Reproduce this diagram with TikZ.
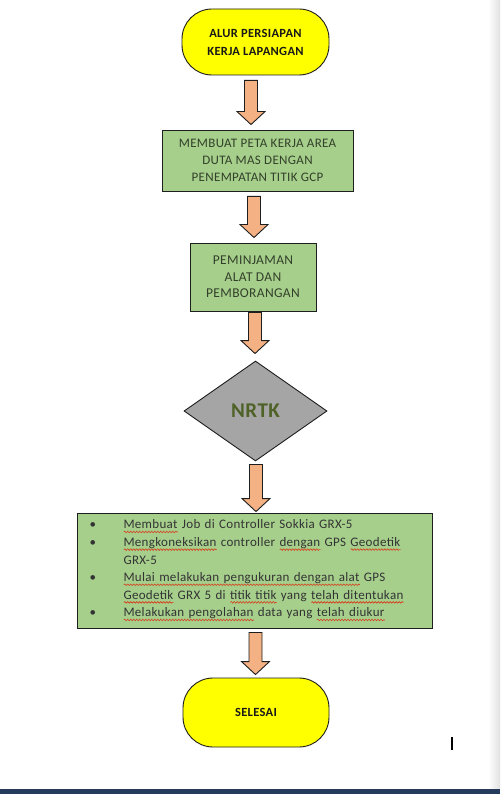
\documentclass[tikz,border=0pt]{standalone}
\usepackage{fontspec}
\setmainfont{Carlito}[LetterSpace=2.5]
\usetikzlibrary{shapes.geometric,calc,decorations.pathmorphing}
\definecolor{termyellow}{HTML}{FFFF00}
\definecolor{boxgreen}{HTML}{A6CF8C}
\definecolor{diagrey}{HTML}{A5A5A5}
\definecolor{arroworange}{HTML}{F4B183}
\definecolor{olivetext}{HTML}{4F6228}
\definecolor{boxtext}{HTML}{33402A}
\definecolor{listtext}{HTML}{333333}
\definecolor{navyband}{HTML}{243B5C}
\definecolor{edgecol}{HTML}{1E1E1E}
\definecolor{spellred}{HTML}{D83A1A}
\newsavebox\rwbox
\newcommand\rw[1]{\sbox\rwbox{#1}\rlap{\raisebox{-3pt}{\tikz[baseline=0pt]
  \draw[spellred, line width=0.6pt, decorate, decoration={snake, amplitude=0.8pt, segment length=3pt}]
  (0pt,0pt) -- (\wd\rwbox,0pt);}}\usebox\rwbox}
\newcommand\blockarrow[5]{%
  \draw[barrow] let \p1=($(#1.south)+(#5,#3)$), \p2=($(#2.north)+(#5,-#4)$) in
    (\x1-6.5pt,\y1) -- (\x1+6.5pt,\y1) -- (\x1+6.5pt,\y2+13pt) -- (\x1+14pt,\y2+13pt)
    -- (\x1,\y2) -- (\x1-14pt,\y2+13pt) -- (\x1-6.5pt,\y2+13pt) -- cycle;}
\begin{document}
\begin{tikzpicture}[x=1pt,y=-1pt,
  terminator/.style={draw=edgecol, line width=0.9pt, fill=termyellow, rounded corners=30pt,
    minimum width=147pt, minimum height=66pt, align=center, inner sep=0pt,
    font=\fontsize{12.5}{18}\selectfont\bfseries, text=black!90},
  procbox/.style={draw=edgecol, line width=0.9pt, fill=boxgreen, align=center, inner sep=0pt,
    font=\fontsize{13}{17}\selectfont, text=boxtext},
  decision/.style={diamond, draw=edgecol, line width=0.9pt, fill=diagrey, minimum width=143pt,
    minimum height=100pt, inner sep=0pt, font=\fontsize{21}{24}\selectfont\bfseries, text=olivetext},
  barrow/.style={draw=edgecol, line width=0.9pt, fill=arroworange, line join=miter}]
\useasboundingbox (0,0) rectangle (500,794);
\fill[white] (0,0) rectangle (500,794);
\shade[left color=white, right color=black!12] (488,0) rectangle (500,789);
\fill[navyband] (0,789) rectangle (500,794);

\node[terminator] (start) at (255.5,42) {ALUR PERSIAPAN\\KERJA LAPANGAN};
\node[procbox, minimum width=191pt, minimum height=61pt] (peta) at (257.5,160.5)
  {MEMBUAT PETA KERJA AREA\\DUTA MAS DENGAN\\PENEMPATAN TITIK GCP};
\node[procbox, minimum width=126pt, minimum height=68pt, font=\fontsize{13.5}{16.5}\selectfont]
  (pinjam) at (253,277) {PEMINJAMAN\\ALAT DAN\\PEMBORANGAN};
\node[decision] (nrtk) at (255.5,411) {NRTK};
\node[procbox, minimum width=355pt, minimum height=115pt, text width=330pt, align=left,
  font=\fontsize{13}{17.6}\selectfont, text=listtext] (kerja) at (254.5,570.5)
  {\makebox[34pt][l]{•}\rw{Membuat} Job di Controller Sokkia GRX-5\\
   \makebox[34pt][l]{•}\rw{Mengkoneksikan} controller \rw{dengan} GPS \rw{Geodetik}\\
   \hspace*{34pt}GRX-5\\
   \makebox[34pt][l]{•}\rw{Mulai melakukan pengukuran dengan alat} GPS\\
   \hspace*{34pt}\rw{Geodetik} GRX 5 di \rw{titik titik} yang \rw{telah ditentukan}\\
   \makebox[34pt][l]{•}\rw{Melakukan pengolahan} data yang \rw{telah diukur}};
\node[terminator, minimum width=146pt, minimum height=69pt] (selesai) at (256,712.5) {SELESAI};

\blockarrow{start}{peta}{5}{5}{-4.5}
\blockarrow{peta}{pinjam}{5}{5}{-3.5}
\blockarrow{pinjam}{nrtk}{1}{7}{2}
\blockarrow{nrtk}{kerja}{3}{1}{0.5}
\blockarrow{kerja}{selesai}{4}{3}{1}

\draw[line width=1.1pt, black] (452,737) -- (452,750);
\end{tikzpicture}
\end{document}
